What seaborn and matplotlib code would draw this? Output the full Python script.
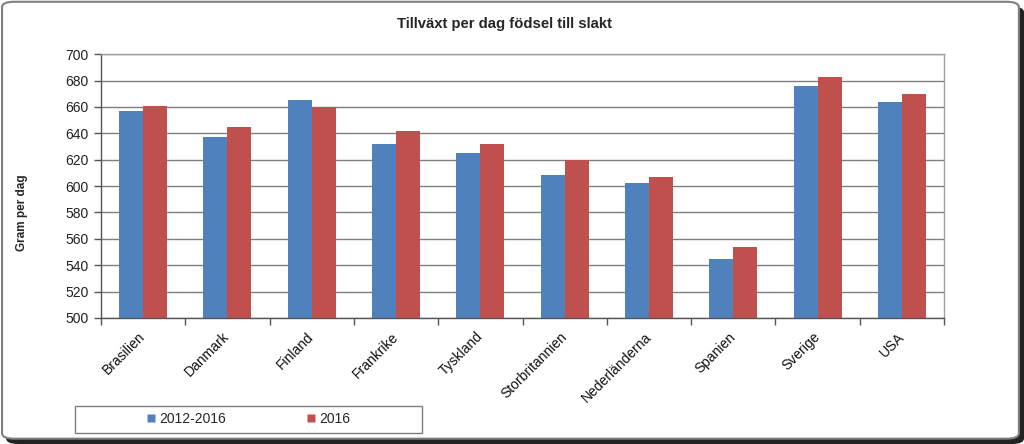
import matplotlib
matplotlib.use("Agg")
import matplotlib.pyplot as plt
import seaborn as sns
import pandas as pd
from matplotlib.patches import FancyBboxPatch, Rectangle
from matplotlib.lines import Line2D

countries = ["Brasilien", "Danmark", "Finland", "Frankrike", "Tyskland",
             "Storbritannien", "Nederländerna", "Spanien", "Sverige", "USA"]
series_names = ["2012-2016", "2016"]
values_2012_2016 = [657, 637, 665, 632, 625, 608, 602, 545, 676, 664]
values_2016 = [661, 645, 660, 642, 632, 620, 607, 554, 683, 670]
yticks = list(range(500, 701, 20))
title = "Tillväxt per dag födsel till slakt"
ylabel = "Gram per dag"
colors = ["#4F81BD", "#C0504D"]

df = pd.DataFrame({
    "Land": countries * 2,
    "Serie": [series_names[0]] * len(countries) + [series_names[1]] * len(countries),
    "Värde": values_2012_2016 + values_2016,
})

sns.set_theme(style="white")
plt.rcParams["font.family"] = ["Liberation Sans", "DejaVu Sans"]

fig = plt.figure(figsize=(10.24, 4.44), dpi=100)
fig.patch.set_facecolor("white")

# outer rounded frame with shadow
shadow = FancyBboxPatch((0.006, 0.0), 0.994, 0.985, boxstyle="round,pad=0,rounding_size=0.012",
                        transform=fig.transFigure, facecolor="#222222", edgecolor="none", zorder=-3)
frame = FancyBboxPatch((0.002, 0.012), 0.993, 0.984, boxstyle="round,pad=0,rounding_size=0.012",
                       transform=fig.transFigure, facecolor="white", edgecolor="#7f7f7f",
                       linewidth=1.5, zorder=-2)
fig.patches.extend([shadow, frame])

ax = fig.add_axes([0.0986, 0.284, 0.8234, 0.594])
sns.barplot(data=df, x="Land", y="Värde", hue="Serie", palette=colors,
            width=0.57, gap=0, dodge=True, ax=ax, legend=False,
            saturation=1, edgecolor="none", errorbar=None)

ax.set_ylim(500, 700)
ax.set_xlim(-0.5, len(countries) - 0.5)
ax.set_yticks(yticks)
ax.set_yticklabels([str(v) for v in yticks], fontsize=10, color="#222222")
ax.yaxis.grid(True, color="#7f7f7f", linewidth=1.0)
ax.set_axisbelow(True)
ax.set_xlabel("")
ax.set_ylabel("")

ax.set_xticks(range(len(countries)))
ax.set_xticklabels(countries, rotation=45, ha="right", va="center", rotation_mode="anchor",
                   fontsize=10, color="#111111")
ax.set_xticks([i - 0.5 for i in range(len(countries) + 1)], minor=True)
ax.tick_params(axis="x", which="major", length=0, pad=12)
ax.tick_params(axis="x", which="minor", length=5, width=1, color="#555555", bottom=True)
ax.tick_params(axis="y", length=5, width=1, color="#555555", left=True, pad=4)

for side in ["left", "bottom"]:
    ax.spines[side].set_color("#555555")
    ax.spines[side].set_linewidth(1.0)
for side in ["top", "right"]:
    ax.spines[side].set_color("#a0a0a0")
    ax.spines[side].set_linewidth(1.0)

fig.text(0.493, 0.947, title, ha="center", va="center", fontsize=10.7, fontweight="bold")
fig.text(0.021, 0.52, ylabel, ha="center", va="center", rotation=90,
         fontsize=8.5, fontweight="bold")

# legend box
fig.patches.append(Rectangle((0.0733, 0.0255), 0.3389, 0.0608, transform=fig.transFigure,
                             facecolor="white", edgecolor="#7f7f7f", linewidth=1.0, zorder=1))
handles = [Line2D([0], [0], marker="s", linestyle="none", markersize=6,
                  markerfacecolor=c, markeredgecolor="none") for c in colors]
leg = fig.legend(handles, series_names, loc="center", bbox_to_anchor=(0.2427, 0.056),
                 ncol=2, frameon=False, fontsize=10, handlelength=0.6, handletextpad=0.3,
                 columnspacing=5.8)
leg.set_zorder(2)

fig.savefig("out.png", dpi=100)
